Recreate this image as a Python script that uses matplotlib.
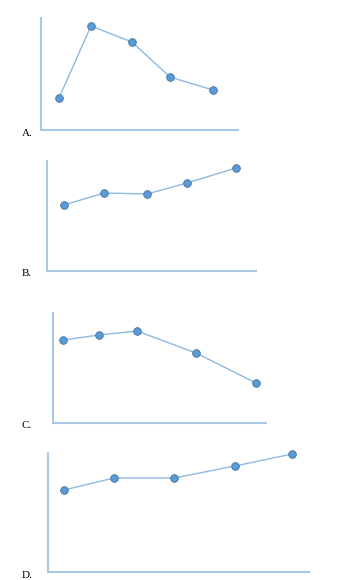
import matplotlib.pyplot as plt

# four answer options, x = position along axis, y = height above axis
labels = ['A.', 'B.', 'C.', 'D.']

xA = [18, 50, 91, 129, 172]
yA = [32, 104, 88, 53, 40]

xB = [17, 57, 100, 140, 189]
yB = [66, 78, 77, 88, 103]

xC = [10, 46, 84, 143, 203]
yC = [83, 88, 92, 70, 40]

xD = [16, 66, 126, 187, 244]
yD = [82, 94, 94, 106, 118]

W, H = 357, 580
fig = plt.figure(figsize=(W / 100, H / 100), dpi=100)

# axes boxes in pixels: left, right, bottom, top
boxes = [(41, 238, 130, 18), (47, 256, 271, 161), (53, 266, 423, 313), (48, 309, 572, 453)]
series = [(xA, yA), (xB, yB), (xC, yC), (xD, yD)]

axis_col = '#a9c8e6'
line_col = '#8fb8e0'

for (l, r, b, t), (xs, ys), lab in zip(boxes, series, labels):
    ax = fig.add_axes([l / W, (H - b) / H, (r - l) / W, (b - t) / H])
    ax.plot(xs, ys, color=line_col, lw=1.0, marker='o', ms=5.5,
            mfc='#5b9bd5', mec='#41719c', mew=0.6, clip_on=False)
    ax.set_xlim(0, r - l)
    ax.set_ylim(0, b - t)
    for s in ['top', 'right']:
        ax.spines[s].set_visible(False)
    for s in ['left', 'bottom']:
        ax.spines[s].set_color(axis_col)
        ax.spines[s].set_linewidth(1.5)
    ax.set_xticks([])
    ax.set_yticks([])
    fig.text(22 / W, 1 - (b + 3) / H, lab, fontsize=8, family='Liberation Serif',
             va='center', ha='left')

fig.savefig('out.png', dpi=100)
